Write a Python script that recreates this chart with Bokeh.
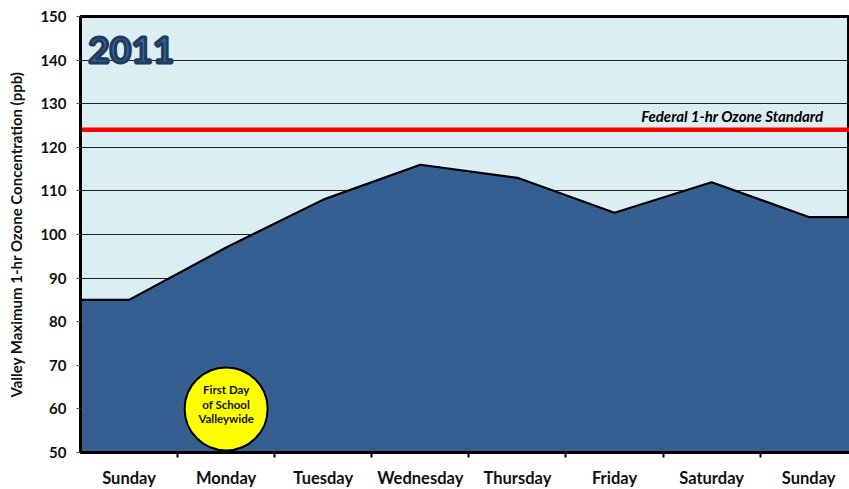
from bokeh.plotting import figure
from bokeh.models import Range1d, FixedTicker
from bokeh.core.properties import value
from bokeh.embed import file_html
from bokeh.resources import INLINE

days = ["Sunday", "Monday", "Tuesday", "Wednesday", "Thursday", "Friday", "Saturday", "Sunday"]
ozone = [85, 97, 108, 116, 113, 105, 112, 104]
standard = 124
year_label = "2011"
standard_label = "Federal 1-hr Ozone Standard"
note_lines = ["First Day", "of School", "Valleywide"]
note_day = 1  # Monday
note_value = 60

FONT = "Lato"
AREA = "#365F91"
BG = "#DAEEF3"

n = len(days)
centers = [i + 0.5 for i in range(n)]
xs = [0] + centers + [n]
ys = [ozone[0]] + ozone + [ozone[-1]]

p = figure(frame_width=769, frame_height=436, output_backend="svg", toolbar_location=None,
           x_range=Range1d(0, 7.92), y_range=Range1d(50, 150),
           min_border_left=80, min_border_top=16, min_border_right=0, min_border_bottom=37)
p.background_fill_color = BG
p.border_fill_color = "white"
p.outline_line_color = "black"
p.outline_line_width = 3

# area
p.varea(x=xs, y1=[50] * len(xs), y2=ys, fill_color=AREA)
p.line(x=xs, y=ys, line_color="black", line_width=2.2)

# standard line
p.line(x=[0, 7.92], y=[standard, standard], line_color="#FF0000", line_width=4.5)

# grid
p.xgrid.visible = False
p.ygrid.ticker = FixedTicker(ticks=list(range(50, 151, 10)))
p.ygrid.grid_line_color = "#222222"
p.ygrid.grid_line_width = 1
p.ygrid.level = "underlay"

# axes
p.xaxis.ticker = FixedTicker(ticks=centers, minor_ticks=list(range(1, n)))
p.xaxis.major_label_overrides = {c: d for c, d in zip(centers, days)}
p.xaxis.major_tick_line_color = None
p.xaxis.minor_tick_line_color = "black"
p.xaxis.minor_tick_line_width = 2
p.xaxis.minor_tick_out = 5
p.xaxis.minor_tick_in = 0
p.xaxis.axis_line_color = "black"
p.xaxis.axis_line_width = 3
p.xaxis.major_label_text_font = FONT
p.xaxis.major_label_text_font_style = "bold"
p.xaxis.major_label_text_font_size = "16.5px"
p.xaxis.major_label_text_color = "#111111"
p.xaxis.major_label_standoff = 9

p.yaxis.ticker = FixedTicker(ticks=list(range(50, 151, 10)))
p.yaxis.minor_tick_line_color = None
p.yaxis.major_tick_line_color = "#555555"
p.yaxis.major_tick_out = 4
p.yaxis.major_tick_in = 0
p.yaxis.axis_line_color = "black"
p.yaxis.axis_line_width = 3
p.yaxis.major_label_text_font = FONT
p.yaxis.major_label_text_font_style = "bold"
p.yaxis.major_label_text_font_size = "15px"
p.yaxis.major_label_text_color = "#111111"
p.yaxis.major_label_standoff = 10
p.yaxis.axis_label = "Valley Maximum 1-hr Ozone Concentration (ppb)"
p.yaxis.axis_label_text_font = FONT
p.yaxis.axis_label_text_font_style = "bold"
p.yaxis.axis_label_text_font_size = "15px"
p.yaxis.axis_label_text_color = "#111111"
p.yaxis.axis_label_standoff = 12

# year title
p.text(x=[0.08], y=[142.4], text=[year_label], text_font=value(FONT),
       text_font_style="bold", text_font_size="37px", text_color="#3B6699",
       text_outline_color="#1F3B5E", text_align="left", text_baseline="alphabetic")

# standard label
p.text(x=[7.65], y=[127.1], text=[standard_label], text_font=value(FONT),
       text_font_style="bold italic", text_font_size="15px", text_color="black",
       text_align="right", text_baseline="middle")

# school note
p.scatter(x=[centers[note_day]], y=[note_value], size=83, fill_color="#FFFF00",
          line_color="black", line_width=2)
note_y = [note_value + 4.4, note_value + 1.0, note_value - 2.3]
p.text(x=[centers[note_day]] * 3, y=note_y, text=note_lines, text_font=value(FONT),
       text_font_style="bold", text_font_size="11.5px", text_color="#111111",
       text_align="center", text_baseline="middle")

open("out.html", "w").write(file_html(p, INLINE))
